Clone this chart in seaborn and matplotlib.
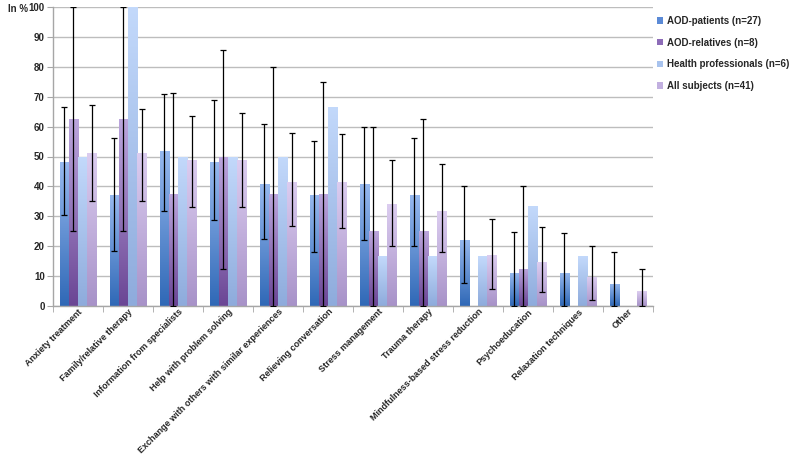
import numpy as np
import pandas as pd
import matplotlib
matplotlib.use("Agg")
import matplotlib.pyplot as plt
import seaborn as sns
from matplotlib.colors import LinearSegmentedColormap
from matplotlib.patches import Rectangle

categories = ["Anxiety treatment", "Family/relative therapy", "Information from specialists",
              "Help with problem solving", "Exchange with others with similar experiences",
              "Relieving conversation", "Stress management", "Trauma therapy",
              "Mindfulness-based stress reduction", "Psychoeducation",
              "Relaxation techniques", "Other"]
series = ["AOD-patients (n=27)", "AOD-relatives (n=8)", "Health professionals (n=6)", "All subjects (n=41)"]

patients = [48.1, 37.0, 51.9, 48.1, 40.7, 37.0, 40.7, 37.0, 22.2, 11.1, 11.1, 7.4]
patients_lo = [30.5, 18.3, 31.7, 28.6, 22.3, 18.2, 22.1, 19.9, 7.8, 0, 0, 0]
patients_hi = [66.7, 56.1, 70.9, 69.0, 61.0, 55.1, 60.0, 56.3, 40.0, 24.9, 24.3, 18.0]
relatives = [62.5, 62.5, 37.5, 50.0, 37.5, 37.5, 25.0, 25.0, 0, 12.5, 0, 0]
relatives_lo = [25, 25, 0, 12.3, 0, 0, 0, 0, np.nan, 0, np.nan, np.nan]
relatives_hi = [100, 100, 71.4, 85.7, 80.1, 75.0, 60.0, 62.6, np.nan, 40.0, np.nan, np.nan]
professionals = [50, 100, 50, 50, 50, 66.7, 16.7, 16.7, 16.7, 33.3, 16.7, 0]
all_subjects = [51.2, 51.2, 48.8, 48.8, 41.5, 41.5, 34.1, 31.7, 17.1, 14.6, 9.8, 4.9]
all_lo = [35.0, 35.0, 33.2, 33.2, 26.8, 26.1, 19.9, 18.0, 5.6, 4.8, 2.0, 0]
all_hi = [67.3, 65.8, 63.4, 64.5, 57.8, 57.6, 48.8, 47.4, 29.0, 26.5, 20.1, 12.3]

values = [patients, relatives, professionals, all_subjects]
lows = [patients_lo, relatives_lo, [np.nan] * 12, all_lo]
highs = [patients_hi, relatives_hi, [np.nan] * 12, all_hi]

grad_colors = [("#2f68b6", "#97b9ef"), ("#6a4594", "#bca6dd"),
               ("#8eabdc", "#c3d9fb"), ("#a792c8", "#dccdf0")]
mid_colors = ["#5b8ad6", "#8d6cb8", "#a8c3ee", "#c2b0e0"]

rows = []
for s, vals in zip(series, values):
    for c, v in zip(categories, vals):
        rows.append({"category": c, "series": s, "value": v})
df = pd.DataFrame(rows)

sns.set_style("white")
plt.rcParams["font.family"] = ["Liberation Sans", "DejaVu Sans"]
plt.rcParams["font.weight"] = "bold"

fig = plt.figure(figsize=(7.89, 4.62), dpi=100)
ax = fig.add_axes([53 / 789, 1 - 306 / 462, 600 / 789, 299 / 462])

sns.barplot(data=df, x="category", y="value", hue="series", order=categories,
            hue_order=series, palette=mid_colors, errorbar=None, width=0.74,
            gap=0, legend=False, ax=ax, zorder=2)

bar_containers = list(ax.containers)
for k, cont in enumerate(bar_containers):
    cmap = LinearSegmentedColormap.from_list(f"g{k}", [grad_colors[k][0], grad_colors[k][1]])
    xs = []
    for p in cont.patches:
        x, w, h = p.get_x(), p.get_width(), p.get_height()
        xs.append(x + w / 2)
        if h <= 0:
            continue
        grad = np.linspace(1, 0, 256).reshape(-1, 1)
        im = ax.imshow(grad, cmap=cmap, extent=[x, x + w, 0, h], aspect="auto",
                       origin="upper", zorder=2, vmin=0, vmax=1)
        im.set_clip_path(p)
        p.set_facecolor("none")
        p.set_edgecolor("none")
    xs = np.array(xs)
    v = np.array(values[k], dtype=float)
    lo = np.array(lows[k], dtype=float)
    hi = np.array(highs[k], dtype=float)
    m = ~np.isnan(lo)
    if m.any():
        ax.errorbar(xs[m], v[m], yerr=[v[m] - lo[m], hi[m] - v[m]], fmt="none",
                    ecolor="black", elinewidth=0.9, capsize=2, capthick=0.9, zorder=4)

ax.set_xlim(-0.5, len(categories) - 0.5)
ax.set_ylim(0, 100)
ax.set_yticks(np.arange(0, 101, 10))
ax.yaxis.grid(True, color="#bdbdbd", linewidth=1)
ax.set_axisbelow(True)
ax.set_xlabel("")
ax.set_ylabel("")
for s in ["top", "right"]:
    ax.spines[s].set_visible(False)
for s in ["left", "bottom"]:
    ax.spines[s].set_color("#a6a6a6")
    ax.spines[s].set_linewidth(1)

ax.set_xticks(range(len(categories)))
ax.set_xticklabels(categories, rotation=45, ha="right", rotation_mode="anchor",
                   fontsize=6.5, fontweight="bold")
ax.set_xticks(np.arange(-0.5, len(categories), 1), minor=True)
ax.tick_params(axis="x", which="major", length=0, pad=1)
ax.tick_params(axis="x", which="minor", length=4, color="#a6a6a6", bottom=True)
ax.tick_params(axis="y", length=4, color="#a6a6a6", labelsize=7, pad=2, left=True)
for t in ax.get_yticklabels():
    t.set_fontweight("bold")

fig.text(8 / 789, 1 - 9 / 462, "In %", fontsize=7, fontweight="bold", va="center", ha="left")

handles = [Rectangle((0, 0), 1, 1, facecolor=c, edgecolor="none") for c in mid_colors]
fig.legend(handles, series, loc="upper left", bbox_to_anchor=(657 / 789, 1 - 16 / 462),
           frameon=False, prop={"weight": "bold", "size": 7},
           handlelength=0.6, handleheight=0.6, handletextpad=0.4, labelspacing=1.2,
           borderpad=0, borderaxespad=0)

fig.savefig("out.png", dpi=100)
